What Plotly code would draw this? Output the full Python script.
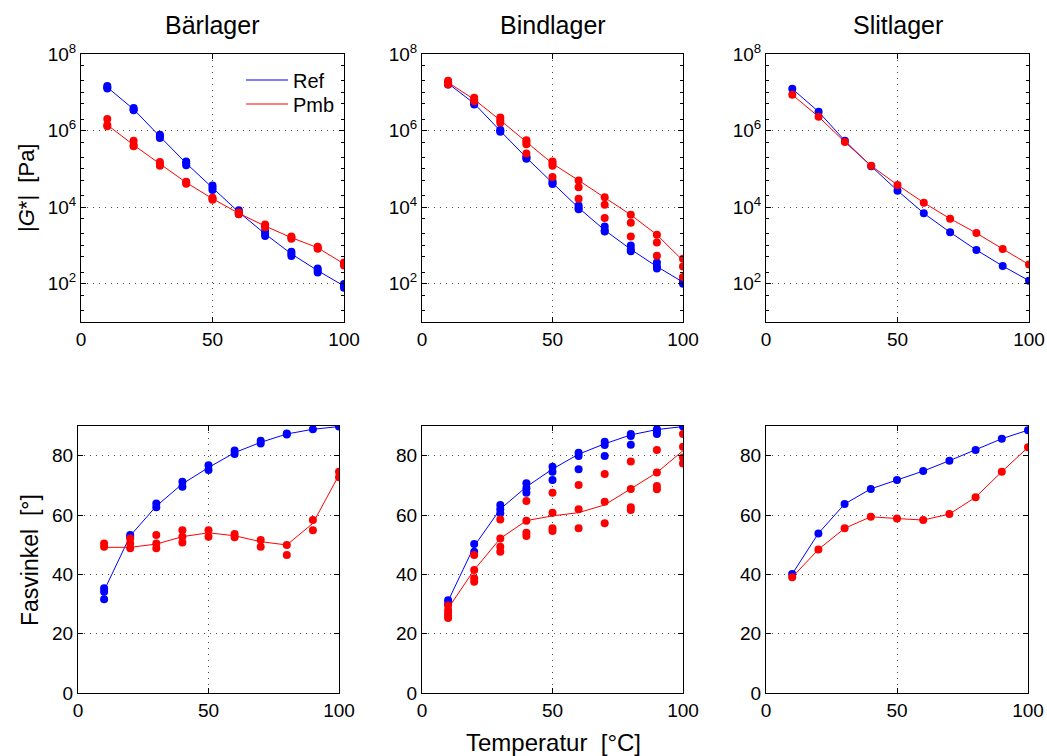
import plotly.graph_objects as go

temps = [10, 20, 30, 40, 50, 60, 70, 80, 90, 100]
panel_titles = ["Bärlager", "Bindlager", "Slitlager"]
x_ticks = [0, 50, 100]
g_tickvals = [1e2, 1e4, 1e6, 1e8]
g_ticktext = ["10<sup>2</sup>", "10<sup>4</sup>", "10<sup>6</sup>", "10<sup>8</sup>"]
phase_tickvals = [0, 20, 40, 60, 80]

# |G*| [Pa] - replicate measurements per temperature
bar_ref_g = [[1.25e7, 1.35e7, 1.45e7], [3.4e6, 3.6e6, 3.9e6], [6.4e5, 7.0e5, 7.8e5],
             [1.25e5, 1.4e5, 1.55e5], [2.8e4, 3.2e4, 3.7e4], [6.6e3, 7.4e3, 8.3e3],
             [1.75e3, 2.0e3, 2.3e3], [530, 600, 680], [195, 220, 250], [78, 87, 98]]
bar_pmb_g = [[2.0e6, 1.4e6, 1.3e6], [5.4e5, 4.2e5, 3.9e5], [1.5e5, 1.35e5, 1.2e5],
             [4.6e4, 4.4e4, 4.1e4], [1.75e4, 1.66e4, 1.55e4], [7.3e3, 6.9e3, 6.5e3],
             [3.5e3, 3.2e3, 3.0e3], [1.7e3, 1.6e3, 1.5e3], [920, 870, 820], [360, 330, 300]]
bar_ref_g_line = [1.35e7, 3.6e6, 7.0e5, 1.4e5, 3.2e4, 7.4e3, 2.0e3, 600, 220, 87]
bar_pmb_g_line = [1.4e6, 4.2e5, 1.35e5, 4.4e4, 1.66e4, 6.9e3, 3.2e3, 1.6e3, 870, 330]

bind_ref_g = [[1.6e7, 1.7e7, 1.8e7], [4.8e6, 5.1e6, 5.4e6], [9.3e5, 9.8e5, 1.05e6],
              [1.85e5, 1.96e5, 2.1e5], [4.0e4, 4.3e4, 4.8e4], [8.8e3, 9.6e3, 1.1e4],
              [2.3e3, 2.5e3, 3.1e3], [700, 790, 1.0e3], [250, 280, 360], [100, 110, 120]]
bind_pmb_g = [[1.6e7, 1.8e7, 2.0e7], [5.8e6, 6.5e6, 7.2e6], [1.6e6, 1.86e6, 2.2e6],
              [4.4e5, 5.0e5, 5.6e5, 2.5e5], [1.2e5, 1.37e5, 1.55e5, 6.1e4],
              [5.0e4, 3.3e4, 1.66e4], [1.8e4, 1.15e4, 5.2e3], [6.3e3, 3.9e3, 1.7e3],
              [1.9e3, 1.2e3, 540], [450, 280, 150]]
bind_ref_g_line = [1.7e7, 5.1e6, 9.8e5, 1.96e5, 4.3e4, 9.6e3, 2.5e3, 790, 280, 110]
bind_pmb_g_line = [1.8e7, 6.5e6, 1.86e6, 5.0e5, 1.37e5, 5.0e4, 1.8e4, 6.3e3, 1.9e3, 400]

slit_ref_g = [1.23e7, 3.1e6, 5.4e5, 1.17e5, 2.7e4, 6.9e3, 2.2e3, 760, 290, 120]
slit_pmb_g = [8.6e6, 2.3e6, 5.0e5, 1.2e5, 3.8e4, 1.3e4, 5.0e3, 2.1e3, 810, 316]

# Phase angle [deg]
bar_ref_ph = [[35.3, 34.1, 31.6], [53.3, 52.6], [63.9, 62.6], [71.2, 69.5], [76.8, 75.2],
              [81.7, 80.6], [85.0, 84.1], [87.5, 87.1], [88.9], [89.8]]
bar_pmb_ph = [[50.4, 49.3], [52.1, 50.4, 48.8], [53.3, 50.4, 48.8], [54.9, 52.7, 50.7],
              [54.9, 52.7], [53.6, 52.5], [51.6, 49.3], [49.9, 46.5], [58.3, 54.9], [74.6, 72.7]]
bar_ref_ph_line = [34.5, 53.0, 63.0, 70.5, 76.0, 81.0, 84.5, 87.3, 88.9, 89.8]
bar_pmb_ph_line = [49.1, 49.1, 50.2, 52.7, 54.0, 53.0, 51.0, 49.9, 57.2, 73.5]

bind_ref_ph = [[31.3, 30.0], [50.2, 47.6], [63.4, 61.9, 60.6], [70.7, 69.0, 67.5],
               [76.3, 74.6, 71.8], [81.0, 79.9, 75.4], [84.7, 83.6, 79.9],
               [87.3, 86.6, 83.7], [88.9, 88.1, 87.3], [89.8]]
bind_pmb_ph = [[29.5, 28.0, 27.0, 26.0, 25.3], [46.5, 41.5, 38.7, 37.5],
               [58.5, 52.1, 49.3, 47.6], [64.7, 58.1, 54.0, 52.9],
               [67.5, 60.8, 55.5, 54.6], [70.1, 61.9, 55.5], [73.8, 64.5, 57.2],
               [78.0, 68.8, 62.6, 61.7], [81.9, 74.3, 69.8, 68.7], [87.3, 83.0, 79.4, 77.4]]
bind_ref_ph_line = [31.0, 49.5, 62.0, 69.5, 75.5, 80.5, 84.0, 87.0, 88.8, 89.8]
bind_pmb_ph_line = [28.5, 41.5, 52.1, 58.1, 59.7, 60.8, 63.4, 68.8, 74.3, 81.7]

slit_ref_ph = [40.1, 53.8, 63.7, 68.8, 71.8, 74.8, 78.3, 81.9, 85.7, 88.6]
slit_pmb_ph = [39.0, 48.4, 55.5, 59.4, 58.8, 58.3, 60.3, 66.0, 74.6, 82.8]

BLUE = "#0000ff"
RED = "#ff0000"
W, H = 1047, 756


def flatten(reps):
    xs, ys = [], []
    for t, vals in zip(temps, reps):
        if not isinstance(vals, list):
            vals = [vals]
        for v in vals:
            xs.append(t)
            ys.append(v)
    return xs, ys


fig = go.Figure()

panels = [
    (1, bar_ref_g, bar_pmb_g, bar_ref_g_line, bar_pmb_g_line),
    (2, bind_ref_g, bind_pmb_g, bind_ref_g_line, bind_pmb_g_line),
    (3, slit_ref_g, slit_pmb_g, slit_ref_g, slit_pmb_g),
    (4, bar_ref_ph, bar_pmb_ph, bar_ref_ph_line, bar_pmb_ph_line),
    (5, bind_ref_ph, bind_pmb_ph, bind_ref_ph_line, bind_pmb_ph_line),
    (6, slit_ref_ph, slit_pmb_ph, slit_ref_ph, slit_pmb_ph),
]

for idx, ref_pts, pmb_pts, ref_line, pmb_line in panels:
    xa = "x" if idx == 1 else f"x{idx}"
    ya = "y" if idx == 1 else f"y{idx}"
    for pts, line, col, name, leg in [(ref_pts, ref_line, BLUE, "Ref", "legend"),
                                      (pmb_pts, pmb_line, RED, "Pmb", "legend2")]:
        fig.add_trace(go.Scatter(x=temps, y=line, mode="lines", line=dict(color=col, width=1),
                                 name=name, showlegend=(idx == 1), legend=leg,
                                 xaxis=xa, yaxis=ya))
        px, py = flatten(pts)
        fig.add_trace(go.Scatter(x=px, y=py, mode="markers", marker=dict(color=col, size=8),
                                 showlegend=False, xaxis=xa, yaxis=ya, hoverinfo="skip"))

# domains in pixels
top_x = [(81, 344), (422, 683), (766, 1029)]
bot_x = [(78, 339), (422, 683), (766, 1028)]
top_y = (54, 322)
bot_y = (426, 693)

font_family = "Liberation Sans, Arial, Helvetica, sans-serif"
tick_font = dict(family=font_family, size=19, color="black")

common = dict(showline=True, linecolor="black", linewidth=1, mirror="allticks",
              ticks="inside", ticklen=5, tickcolor="black", showgrid=True,
              gridcolor="rgba(0,0,0,0.7)", griddash="1px,5px", gridwidth=1.3,
              zeroline=False, tickfont=tick_font, automargin=False)

layout = {}
for i in range(6):
    n = i + 1
    xd = top_x[i] if i < 3 else bot_x[i - 3]
    yd = top_y if i < 3 else bot_y
    xkey = "xaxis" if n == 1 else f"xaxis{n}"
    ykey = "yaxis" if n == 1 else f"yaxis{n}"
    ya = "y" if n == 1 else f"y{n}"
    xa = "x" if n == 1 else f"x{n}"
    layout[xkey] = dict(common, domain=[xd[0] / W, xd[1] / W], range=[0, 100],
                        tickvals=x_ticks, anchor=ya)
    if i < 3:
        layout[ykey] = dict(common, domain=[1 - yd[1] / H, 1 - yd[0] / H], type="log",
                            range=[1, 8], tickvals=g_tickvals, ticktext=g_ticktext, anchor=xa,
                            minor=dict(ticks="inside", ticklen=3, tickcolor="black",
                                       showgrid=False))
    else:
        layout[ykey] = dict(common, domain=[1 - yd[1] / H, 1 - yd[0] / H], range=[0, 90],
                            tickvals=phase_tickvals, anchor=xa)

annotations = []
for t, (x0, x1) in zip(panel_titles, top_x):
    annotations.append(dict(text=t, x=(x0 + x1) / 2 / W, y=1 - 25 / H, xref="paper", yref="paper",
                            showarrow=False, font=dict(family=font_family, size=25, color="black"),
                            xanchor="center", yanchor="middle"))
annotations.append(dict(text="|<i>G</i>*|\u00a0\u00a0[Pa]", x=27 / W, y=1 - 188 / H, xref="paper",
                        yref="paper", showarrow=False, textangle=-90,
                        font=dict(family=font_family, size=22, color="black"),
                        xanchor="center", yanchor="middle"))
annotations.append(dict(text="Fasvinkel\u00a0\u00a0[°]", x=30 / W, y=1 - 560 / H, xref="paper",
                        yref="paper", showarrow=False, textangle=-90,
                        font=dict(family=font_family, size=23, color="black"),
                        xanchor="center", yanchor="middle"))
annotations.append(dict(text="Temperatur\u00a0\u00a0[°C]", x=553 / W, y=1 - 742 / H, xref="paper",
                        yref="paper", showarrow=False,
                        font=dict(family=font_family, size=24, color="black"),
                        xanchor="center", yanchor="middle"))

leg_common = dict(xanchor="left", yanchor="middle", bgcolor="rgba(0,0,0,0)",
                  font=dict(family=font_family, size=20, color="black"),
                  tracegroupgap=0, itemwidth=42)

fig.update_layout(
    width=W, height=H, margin=dict(l=0, r=0, t=0, b=0, autoexpand=False),
    paper_bgcolor="white", plot_bgcolor="white",
    showlegend=True,
    legend=dict(leg_common, x=241 / W, y=1 - 80 / H),
    legend2=dict(leg_common, x=241 / W, y=1 - 104 / H),
    annotations=annotations,
    **layout,
)

fig.write_html("out.html")
